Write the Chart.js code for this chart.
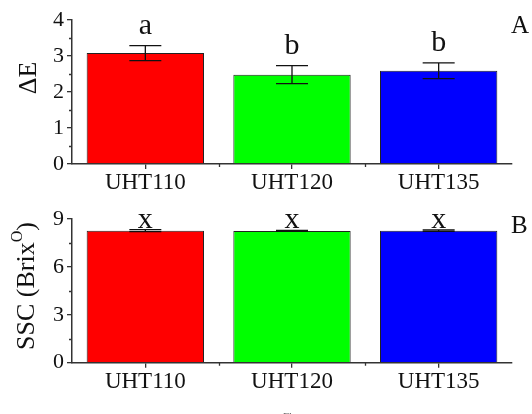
<!DOCTYPE html>
<html>
<head>
<meta charset="utf-8">
<script src="https://cdn.jsdelivr.net/npm/chart.js@4.4.0/dist/chart.umd.min.js"></script>
<style>
  body { margin: 0; background: #fff; }
  canvas { display: block; }
</style>
</head>
<body>
<canvas id="chartA" width="532" height="200"></canvas>
<canvas id="chartB" width="532" height="214"></canvas>
<script>
// data
const categories = ["UHT110", "UHT120", "UHT135"];
const barColors = ["#ff0000", "#00ff00", "#0000ff"];

const deltaE = [3.08, 2.48, 2.59];
const deltaEErr = [0.21, 0.25, 0.22];
const deltaELetters = ["a", "b", "b"];

const ssc = [8.27, 8.25, 8.27];
const sscErr = [0.06, 0.03, 0.05];
const sscLetters = ["x", "x", "x"];

const FONT = "'Liberation Serif', 'Times New Roman', serif";
const INK = "#111";

// error bars, letters, minor ticks, titles
const extras = {
  id: 'extras',
  afterDatasetsDraw(chart, args, o) {
    const ctx = chart.ctx;
    const x = chart.scales.x, y = chart.scales.y;
    const ds = chart.data.datasets[0];
    ctx.save();
    ctx.strokeStyle = INK;
    ctx.lineWidth = 1.3;
    ds.data.forEach((v, i) => {
      const cx = x.getPixelForValue(i);
      const top = y.getPixelForValue(v + o.err[i]);
      const bot = y.getPixelForValue(v - o.err[i]);
      ctx.beginPath();
      ctx.moveTo(cx, top); ctx.lineTo(cx, bot);
      ctx.moveTo(cx - 16, top); ctx.lineTo(cx + 16, top);
      ctx.moveTo(cx - 16, bot); ctx.lineTo(cx + 16, bot);
      ctx.stroke();
      // significance letters
      ctx.fillStyle = INK;
      ctx.font = "30px " + FONT;
      ctx.textAlign = 'center';
      ctx.textBaseline = 'alphabetic';
      ctx.fillText(o.letters[i], cx, top - o.letterGap);
    });
    ctx.restore();
  },
  afterDraw(chart, args, o) {
    const ctx = chart.ctx;
    const x = chart.scales.x, y = chart.scales.y;
    const area = chart.chartArea;
    ctx.save();
    ctx.strokeStyle = "#333";
    ctx.lineWidth = 1.3;
    // minor y ticks
    ctx.beginPath();
    for (let v = o.minorStep; v < y.max; v += 2 * o.minorStep) {
      const py = Math.round(y.getPixelForValue(v)) + 0.5;
      ctx.moveTo(area.left - 3, py); ctx.lineTo(area.left, py);
    }
    // minor x ticks at category boundaries
    for (let i = 0; i < categories.length - 1; i++) {
      const px = Math.round((x.getPixelForValue(i) + x.getPixelForValue(i + 1)) / 2) + 0.5;
      ctx.moveTo(px, area.bottom); ctx.lineTo(px, area.bottom + 3);
    }
    ctx.stroke();

    // y title (rotated, pieces so a superscript can be used)
    ctx.fillStyle = INK;
    ctx.textBaseline = 'middle';
    ctx.save();
    ctx.translate(o.titleX, o.titleY);
    ctx.rotate(-Math.PI / 2);
    ctx.textAlign = 'left';
    let total = 0;
    o.title.forEach(p => {
      ctx.font = p.size + "px " + FONT;
      total += ctx.measureText(p.text).width;
    });
    let cur = -total / 2;
    o.title.forEach(p => {
      ctx.font = p.size + "px " + FONT;
      ctx.fillText(p.text, cur, p.dy || 0);
      cur += ctx.measureText(p.text).width;
    });
    ctx.restore();

    // panel letter
    ctx.font = "25px " + FONT;
    ctx.textAlign = 'left';
    ctx.textBaseline = 'alphabetic';
    ctx.fillText(o.panel, o.panelX, o.panelY);
    if (o.footer) {
      ctx.font = "11px " + FONT;
      ctx.fillStyle = "#666";
      ctx.fillText(o.footer, 283, chart.height + 6);
    }
    ctx.restore();
  }
};

function makeChart(id, values, err, letters, yMax, yStep, xHeight, top, opts) {
  return new Chart(document.getElementById(id), {
    type: 'bar',
    data: {
      labels: categories,
      datasets: [{
        data: values,
        backgroundColor: barColors,
        borderColor: "#222",
        borderWidth: 1,
        categoryPercentage: 0.8,
        barPercentage: 1.0
      }]
    },
    options: {
      responsive: false,
      animation: false,
      devicePixelRatio: 1,
      layout: { padding: { top: top, right: 20, left: 0, bottom: 0 } },
      plugins: {
        legend: { display: false },
        tooltip: { enabled: false },
        extras: Object.assign({ err: err, letters: letters }, opts)
      },
      scales: {
        x: {
          offset: true,
          grid: { display: true, offset: false, drawOnChartArea: false, drawTicks: true, tickLength: 5, color: "#333", lineWidth: 1.3 },
          border: { display: true, color: "#333", width: 1.5 },
          ticks: { color: INK, font: { family: FONT, size: 23 }, padding: 0, maxRotation: 0 },
          afterFit: s => { s.height = xHeight; }
        },
        y: {
          min: 0, max: yMax,
          grid: { display: true, drawOnChartArea: false, drawTicks: true, tickLength: 5, color: "#333", lineWidth: 1.3 },
          border: { display: true, color: "#333", width: 1.5 },
          ticks: { stepSize: yStep, color: INK, font: { family: FONT, size: 22 }, padding: 3 },
          afterFit: s => { s.width = 72; }
        }
      }
    },
    plugins: [extras]
  });
}

makeChart('chartA', deltaE, deltaEErr, deltaELetters, 4, 1, 36, 20, {
  letterGap: 12, minorStep: 0.5,
  title: [{ text: "\u0394E", size: 26 }],
  titleX: 29, titleY: 78,
  panel: "A", panelX: 511, panelY: 33
});

makeChart('chartB', ssc, sscErr, sscLetters, 9, 3, 51.3, 19, {
  letterGap: 2, minorStep: 1.5,
  title: [{ text: "SSC (Brix", size: 26 }, { text: "O", size: 16, dy: -9 }, { text: ")", size: 26 }],
  titleX: 27, titleY: 86,
  panel: "B", panelX: 511, panelY: 33,
  footer: "Fl"
});
</script>
</body>
</html>
